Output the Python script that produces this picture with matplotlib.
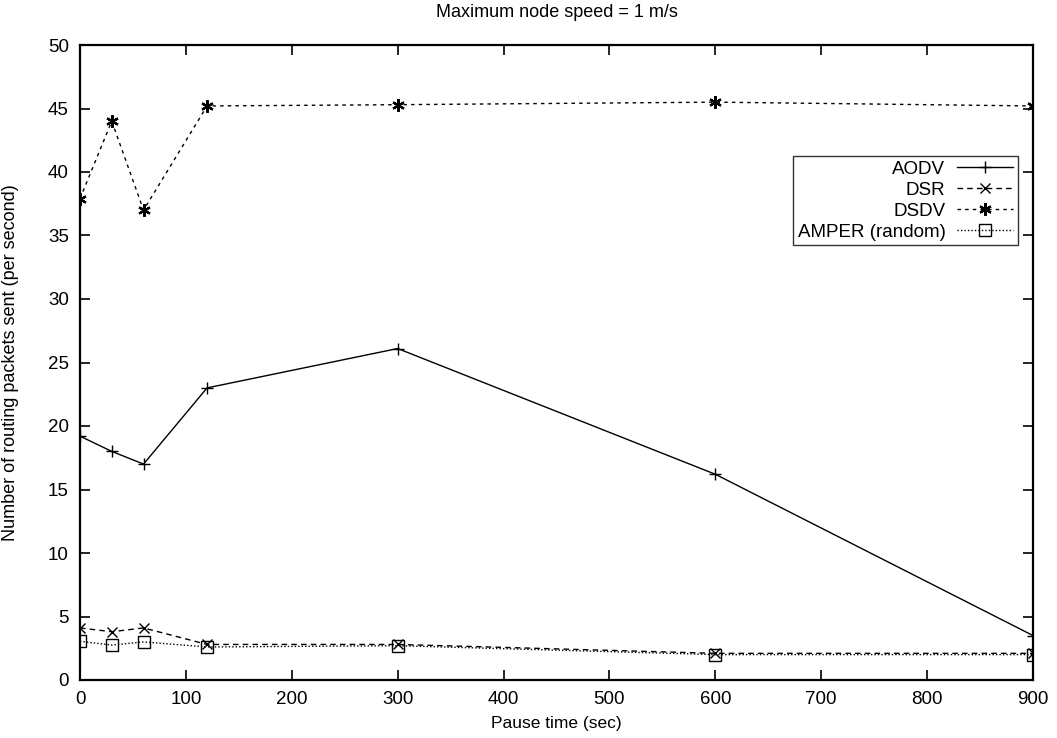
import matplotlib
matplotlib.use("Agg")
import matplotlib.pyplot as plt

plt.rcParams['font.family'] = ['Liberation Sans', 'DejaVu Sans']

pause = [0, 30, 60, 120, 300, 600, 900]
aodv = [19.2, 18.0, 17.0, 23.0, 26.1, 16.2, 3.5]
dsr = [4.1, 3.8, 4.1, 2.8, 2.8, 2.1, 2.1]
dsdv = [37.9, 44.0, 37.0, 45.2, 45.3, 45.5, 45.2]
amper = [3.05, 2.75, 3.0, 2.6, 2.7, 2.0, 2.0]

xticks = list(range(0, 901, 100))
yticks = list(range(0, 51, 5))

fig = plt.figure(figsize=(10.57, 7.38), dpi=100)
ax = fig.add_axes([80/1057, 1-680/738, 953/1057, 635/738])

ax.plot(pause, aodv, color='black', lw=1.0, ls='-', marker='+', ms=8, mew=1.0, label='AODV')
ax.plot(pause, dsr, color='black', lw=1.0, ls=(0, (4, 3)), marker='x', ms=7, mew=1.0, label='DSR')
ax.plot(pause, dsdv, color='black', lw=1.0, ls=(0, (2.5, 3)), marker=(6, 2, 0), ms=9, mew=1.6, label='DSDV')
ax.plot(pause, amper, color='black', lw=1.0, ls=(0, (1, 1.5)), marker='s', ms=8, mfc='none', mew=1.0, label='AMPER (random)')

ax.set_xlim(0, 900)
ax.set_ylim(0, 50)
ax.set_xticks(xticks)
ax.set_yticks(yticks)
ax.tick_params(direction='in', length=7.5, width=1.2, top=True, right=True, labelsize=13.5, pad=8)
for s in ax.spines.values():
    s.set_linewidth(1.6)

ax.set_xlabel('Pause time (sec)', fontsize=12.5, labelpad=6)
ax.set_ylabel('Number of routing packets sent (per second)', fontsize=13)
ax.yaxis.set_label_coords(-0.064, 0.5)
ax.set_title('Maximum node speed = 1 m/s', fontsize=13, pad=20)

leg = ax.legend(loc='upper left', bbox_to_anchor=(0.748, 0.825), fontsize=13.5, markerfirst=False,
                frameon=True, fancybox=False, edgecolor='black', borderpad=0.25, handlelength=3.0,
                labelspacing=0.2, handletextpad=0.6, borderaxespad=0)
leg.get_frame().set_linewidth(1.0)
leg._legend_box.align = 'right'

fig.savefig('out.png', dpi=100)
